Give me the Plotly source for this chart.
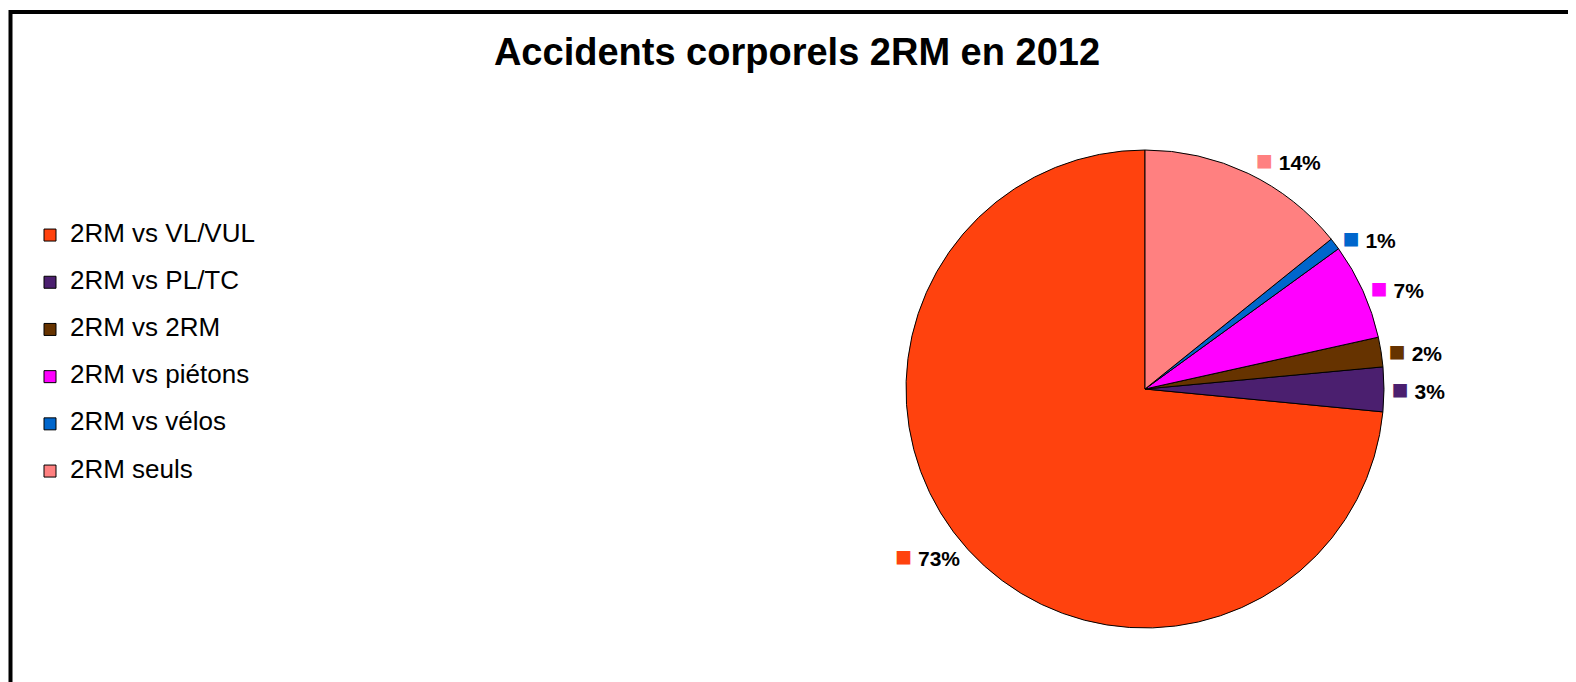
import plotly.graph_objects as go

categories = ["2RM vs VL/VUL", "2RM vs PL/TC", "2RM vs 2RM", "2RM vs piétons", "2RM vs vélos", "2RM seuls"]
values = [73.4, 3.0, 2.0, 6.5, 0.8, 14.2]
colors = ["#FF420E", "#4B1F6F", "#663300", "#FF00FF", "#0066CC", "#FF8080"]
title_text = "Accidents corporels 2RM en 2012"

# the page body has an 8px default margin; work in page pixels and convert
OFF = 8
W, H = 1576 - OFF, 682 - OFF


def px(X):
    return (X - OFF) / W


def py(Y):
    return 1 - (Y - OFF) / H


cx, cy, r = 1145, 389, 239

legend_labels = [f'<span style="font-size:26px">{c}</span><br>\u00a0' for c in categories]
templates = [f'<span style="color:{c};font-size:28px">■</span> <b>%{{percent:.0%}}</b>' for c in colors]

# first slice starts at 12 o'clock and runs counter-clockwise
total = sum(values)
rot = 360 - values[0] / total * 360

fig = go.Figure(go.Pie(
    labels=legend_labels,
    values=values,
    sort=False,
    direction="counterclockwise",
    rotation=rot,
    marker=dict(colors=colors, line=dict(color="black", width=1)),
    textposition="outside",
    texttemplate=templates,
    textfont=dict(family="Liberation Sans, Arial, sans-serif", size=21, color="black"),
    hoverinfo="percent",
    domain=dict(x=[px(cx - r), px(cx + r)], y=[py(cy + r), py(cy - r)]),
))

fig.update_layout(
    width=W, height=H,
    margin=dict(l=0, r=0, t=0, b=0),
    paper_bgcolor="white",
    plot_bgcolor="white",
    font=dict(family="Liberation Sans, Arial, sans-serif", color="black"),
    title=dict(text=f"<b>{title_text}</b>", x=px(797), xanchor="center",
               y=py(52), yanchor="middle",
               font=dict(size=38, color="black", family="Liberation Sans, Arial, sans-serif")),
    showlegend=True,
    legend=dict(x=px(30), xanchor="left", y=py(217.5), yanchor="top",
                font=dict(size=17, color="black"), valign="top",
                bgcolor="rgba(0,0,0,0)", borderwidth=0),
    shapes=[dict(type="rect", xref="paper", yref="paper",
                 x0=px(10.5), x1=1.02, y0=-0.02, y1=py(12),
                 line=dict(color="black", width=4))],
)

fig.write_html("out.html")
